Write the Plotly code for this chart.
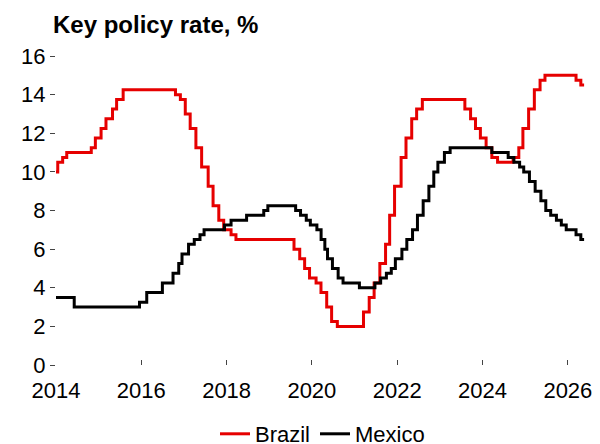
import plotly.graph_objects as go

# Brazil Selic rate, % (date of change, new rate)
brazil_dates = ['2014-01-01', '2014-01-16', '2014-02-27', '2014-04-03', '2014-10-30', '2014-12-04',
                '2015-01-22', '2015-03-05', '2015-04-30', '2015-06-04', '2015-07-30', '2016-10-20',
                '2016-12-01', '2017-01-12', '2017-02-23', '2017-04-13', '2017-06-01', '2017-07-27',
                '2017-09-07', '2017-10-26', '2017-12-07', '2018-02-08', '2018-03-22', '2019-08-01',
                '2019-09-19', '2019-10-31', '2019-12-12', '2020-02-06', '2020-03-19', '2020-05-07',
                '2020-06-18', '2020-08-06', '2021-03-18', '2021-05-06', '2021-06-17', '2021-08-05',
                '2021-09-23', '2021-10-28', '2021-12-09', '2022-02-03', '2022-03-17', '2022-05-05',
                '2022-06-16', '2022-08-04', '2023-08-03', '2023-09-21', '2023-11-02', '2023-12-14',
                '2024-02-01', '2024-03-21', '2024-05-09', '2024-09-19', '2024-11-07', '2024-12-12',
                '2025-01-30', '2025-03-20', '2025-05-08', '2025-06-19', '2026-03-12', '2026-04-22',
                '2026-05-20']
brazil_rate = [10.0, 10.5, 10.75, 11.0, 11.25, 11.75,
               12.25, 12.75, 13.25, 13.75, 14.25, 14.0,
               13.75, 13.0, 12.25, 11.25, 10.25, 9.25,
               8.25, 7.5, 7.0, 6.75, 6.5, 6.0,
               5.5, 5.0, 4.5, 4.25, 3.75, 3.0,
               2.25, 2.0, 2.75, 3.5, 4.25, 5.25,
               6.25, 7.75, 9.25, 10.75, 11.75, 12.75,
               13.25, 13.75, 13.25, 12.75, 12.25, 11.75,
               11.25, 10.75, 10.5, 10.75, 11.25, 12.25,
               13.25, 14.25, 14.75, 15.0, 14.75, 14.5,
               14.5]

# Mexico overnight rate, %
mexico_dates = ['2014-01-01', '2014-06-06', '2015-12-17', '2016-02-17', '2016-06-30', '2016-09-29',
                '2016-11-17', '2016-12-15', '2017-02-09', '2017-03-30', '2017-05-18', '2017-06-22',
                '2017-12-14', '2018-02-08', '2018-06-21', '2018-11-15', '2018-12-20', '2019-08-15',
                '2019-09-26', '2019-11-14', '2019-12-19', '2020-02-13', '2020-03-20', '2020-04-21',
                '2020-05-14', '2020-06-25', '2020-08-13', '2020-09-24', '2021-02-11', '2021-06-24',
                '2021-08-12', '2021-09-30', '2021-11-11', '2021-12-16', '2022-02-10', '2022-03-24',
                '2022-05-12', '2022-06-23', '2022-08-11', '2022-09-29', '2022-11-10', '2022-12-15',
                '2023-02-09', '2023-03-30', '2024-03-21', '2024-08-08', '2024-09-26', '2024-11-14',
                '2024-12-19', '2025-02-06', '2025-03-27', '2025-05-15', '2025-06-26', '2025-08-07',
                '2025-09-25', '2025-11-06', '2025-12-18', '2026-03-12', '2026-04-22', '2026-05-20']
mexico_rate = [3.5, 3.0, 3.25, 3.75, 4.25, 4.75,
               5.25, 5.75, 6.25, 6.5, 6.75, 7.0,
               7.25, 7.5, 7.75, 8.0, 8.25, 8.0,
               7.75, 7.5, 7.25, 7.0, 6.5, 6.0,
               5.5, 5.0, 4.5, 4.25, 4.0, 4.25,
               4.5, 4.75, 5.0, 5.5, 6.0, 6.5,
               7.0, 7.75, 8.5, 9.25, 10.0, 10.5,
               11.0, 11.25, 11.0, 10.75, 10.5, 10.25,
               10.0, 9.5, 9.0, 8.5, 8.0, 7.75,
               7.5, 7.25, 7.0, 6.75, 6.5, 6.5]

tick_years = [2014, 2016, 2018, 2020, 2022, 2024, 2026]
y_ticks = [0, 2, 4, 6, 8, 10, 12, 14, 16]

font = 'Arial, Liberation Sans, sans-serif'

fig = go.Figure()
fig.add_trace(go.Scatter(x=brazil_dates, y=brazil_rate, name='Brazil', mode='lines',
                         line=dict(color='#E60000', width=3, shape='hv')))
fig.add_trace(go.Scatter(x=mexico_dates, y=mexico_rate, name='Mexico', mode='lines',
                         line=dict(color='black', width=3, shape='hv')))

fig.update_layout(
    width=600, height=444,
    margin=dict(l=56, r=8, t=56, b=79),
    plot_bgcolor='white', paper_bgcolor='white',
    font=dict(family=font, size=22, color='black'),
    title=dict(text='<b>Key policy rate, %</b>', x=53/600, xanchor='left', xref='container',
               y=1 - 25/444, yanchor='middle', yref='container',
               font=dict(family=font, size=24, color='black')),
    showlegend=True,
    legend=dict(orientation='h', x=0.5, xanchor='center', xref='paper',
                y=1 - 434/444, yanchor='middle', yref='container',
                font=dict(family=font, size=22, color='black'),
                itemwidth=30, tracegroupgap=0),
)

fig.update_xaxes(
    type='date', range=['2014-01-01', '2026-07-01'],
    tickvals=[f'{y}-01-01' for y in tick_years], ticktext=[str(y) for y in tick_years],
    ticks='inside', ticklen=5, tickwidth=1, tickcolor='#444', ticklabelstandoff=10,
    showgrid=False, showline=False, zeroline=False,
)
fig.update_yaxes(
    range=[0, 16], tickvals=y_ticks,
    ticks='outside', ticklen=5, tickwidth=1, tickcolor='#444',
    showgrid=False, showline=False, zeroline=False,
)

# drop the browser's default page margin so the figure sits at the top-left corner
fig.write_html('out.html', config={'displayModeBar': False},
               post_script="document.body.style.margin='0';")
